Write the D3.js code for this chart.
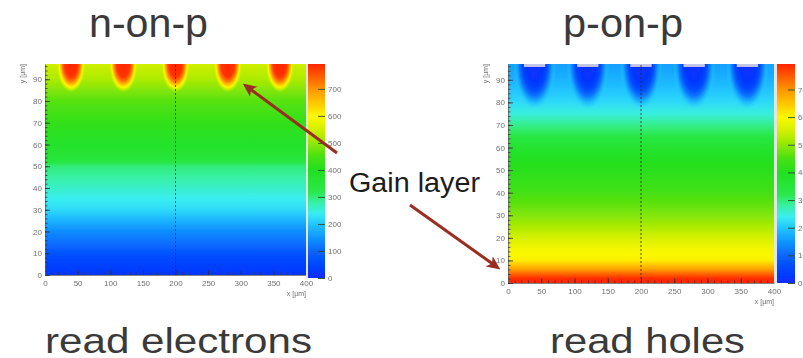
<!DOCTYPE html>
<html>
<head>
<meta charset="utf-8">
<script src="https://cdn.jsdelivr.net/npm/d3@7/dist/d3.min.js"></script>
<style>
  body { margin: 0; background: #fff; }
  svg { display: block; }
</style>
</head>
<body>
<svg id="chart" width="803" height="358"></svg>
<script>
// axis ticks
const xTicks = [0, 50, 100, 150, 200, 250, 300, 350, 400];
const yTicks = [0, 10, 20, 30, 40, 50, 60, 70, 80, 90];
const zTicks = [0, 100, 200, 300, 400, 500, 600, 700];
const xMax = 400, yMax = 97, zMax = 792;

// colour palette of the z axis (value -> colour)
const paletteVals = [0, 50, 100, 150, 200, 240, 280, 320, 400, 450, 500, 550, 600, 650, 700, 750, 792];
const paletteCols = ['#0a2cff', '#0046ff', '#0a66ff', '#1096ff', '#22c6ff', '#3aeef0', '#38f0a4', '#2ae84a',
  '#22e020', '#48e012', '#92e806', '#d2f000', '#fcf800', '#ffc400', '#ff9400', '#ff5800', '#ff2400'];

// strip positions (um)
const stripCenters = [40, 120, 200, 280, 360];

// n-on-p : field between strips vs depth y (um)
const nonpLevels = [0, 5, 10, 15, 20, 25, 30, 35, 40, 45, 50, 52, 55, 60, 70, 80, 85, 90, 95, 97];
const nonpBulk   = [20, 40, 70, 110, 140, 180, 220, 240, 260, 280, 300, 340, 360, 380, 420, 460, 490, 520, 540, 550];
// n-on-p : values going out from a strip (normalised radius)
const nonpBumpR     = [0, 0.45, 0.6, 0.72, 0.82, 0.92, 1];
const nonpBumpVals  = [792, 780, 730, 660, 600, 560, 540];
const nonpBumpAlpha = [1, 1, 1, 1, 1, 0.6, 0];
const nonpBumpSize  = [22, 13];   // half width, depth (um)

// p-on-p : field between strips vs depth y (um)
const ponpLevels = [0, 2, 4, 6, 8, 10, 12, 15, 20, 25, 30, 35, 40, 45, 50, 55, 60, 65, 70, 75, 80, 85, 90, 95, 97];
const ponpBulk   = [792, 785, 740, 690, 650, 610, 600, 590, 555, 520, 490, 465, 445, 425, 410, 400, 370, 330, 290, 250, 220, 200, 180, 165, 160];
const ponpBumpR     = [0, 0.4, 0.55, 0.7, 0.82, 0.92, 1];
const ponpBumpVals  = [10, 20, 50, 110, 160, 195, 215];
const ponpBumpAlpha = [1, 1, 1, 1, 0.8, 0.4, 0];
const ponpBumpSize  = [32, 20];

const color = d3.scaleLinear().domain(paletteVals).range(paletteCols).clamp(true);
const svg = d3.select('#chart');
const defs = svg.append('defs');
defs.append('filter').attr('id', 'soft').append('feGaussianBlur').attr('stdDeviation', 0.45);

// arrow head
defs.append('marker')
  .attr('id', 'head').attr('viewBox', '0 0 10 10')
  .attr('refX', 7).attr('refY', 5)
  .attr('markerWidth', 4.6).attr('markerHeight', 4.6)
  .attr('orient', 'auto')
  .append('path').attr('d', 'M0,0.5 L10,5 L0,9.5 L2.5,5 z').attr('fill', '#9b2d20');

const font = "'Liberation Sans', Arial, sans-serif";

function panel(id, box, levels, bulk, bumpR, bumpVals, bumpAlpha, bumpSize, electrodes) {
  const x = d3.scaleLinear().domain([0, xMax]).range([box.left, box.right]);
  const y = d3.scaleLinear().domain([0, yMax]).range([box.bottom, box.top]);
  const z = d3.scaleLinear().domain([0, zMax]).range([box.cbBottom, box.top]);
  const g = svg.append('g').attr('filter', 'url(#soft)');

  defs.append('clipPath').attr('id', id + 'clip')
    .append('rect')
    .attr('x', x(0)).attr('y', y(yMax))
    .attr('width', x(xMax) - x(0)).attr('height', y(0) - y(yMax));

  // field profile (between strips)
  const lg = defs.append('linearGradient').attr('id', id + 'bulk')
    .attr('gradientUnits', 'userSpaceOnUse')
    .attr('x1', 0).attr('x2', 0).attr('y1', y(0)).attr('y2', y(yMax));
  lg.selectAll('stop').data(levels).join('stop')
    .attr('offset', d => d / yMax)
    .attr('stop-color', (d, i) => color(bulk[i]));

  const plot = g.append('g').attr('clip-path', `url(#${id}clip)`);
  plot.append('rect')
    .attr('x', x(0)).attr('y', y(yMax))
    .attr('width', x(xMax) - x(0)).attr('height', y(0) - y(yMax))
    .attr('fill', `url(#${id}bulk)`);

  // field around each strip
  const rg = defs.append('radialGradient').attr('id', id + 'bump');
  rg.selectAll('stop').data(bumpR).join('stop')
    .attr('offset', d => d)
    .attr('stop-color', (d, i) => color(bumpVals[i]))
    .attr('stop-opacity', (d, i) => bumpAlpha[i]);

  plot.selectAll('ellipse').data(stripCenters).join('ellipse')
    .attr('cx', d => x(d))
    .attr('cy', y(yMax))
    .attr('rx', d => x(d + bumpSize[0]) - x(d))
    .attr('ry', y(yMax - bumpSize[1]) - y(yMax))
    .attr('fill', `url(#${id}bump)`);

  if (electrodes) {
    plot.selectAll('rect.strip').data(stripCenters).join('rect')
      .attr('class', 'strip')
      .attr('x', d => x(d - 16))
      .attr('y', y(yMax))
      .attr('width', d => x(d + 16) - x(d - 16))
      .attr('height', y(yMax - 1.3) - y(yMax))
      .attr('fill', '#c6c6e6');
  }

  // dashed line in the middle
  plot.append('line')
    .attr('x1', x(200)).attr('x2', x(200))
    .attr('y1', y(0)).attr('y2', y(yMax))
    .attr('stroke', '#2a2a2a').attr('stroke-width', 0.8)
    .attr('stroke-dasharray', '2,2');

  // axes
  const ax = g.append('g').attr('transform', `translate(0,${y(0)})`)
    .call(d3.axisBottom(x).tickValues(xTicks).tickSize(-5).tickSizeOuter(0).tickPadding(5));
  const axMinor = g.append('g').attr('transform', `translate(0,${y(0)})`)
    .call(d3.axisBottom(x).tickValues(d3.range(0, xMax + 1, 10)).tickSize(-2.5).tickFormat(''));
  const ay = g.append('g').attr('transform', `translate(${x(0)},0)`)
    .call(d3.axisLeft(y).tickValues(yTicks).tickSize(-5).tickSizeOuter(0).tickPadding(3));
  const ayMinor = g.append('g').attr('transform', `translate(${x(0)},0)`)
    .call(d3.axisLeft(y).tickValues(d3.range(0, yMax, 2)).tickSize(-2.5).tickFormat(''));
  axMinor.select('.domain').remove();
  ayMinor.select('.domain').remove();
  [ax, ay, axMinor, ayMinor].forEach(a => {
    a.attr('font-size', 8).attr('font-family', font);
    a.selectAll('line').attr('stroke', '#333').attr('stroke-width', 0.8);
    a.selectAll('text').attr('fill', '#707070');
  });
  ax.select('.domain').attr('stroke', '#666').attr('stroke-width', 0.8);
  ay.select('.domain').attr('stroke', '#666').attr('stroke-width', 0.8);

  g.append('text')
    .attr('x', x(xMax)).attr('y', y(0) + 21)
    .attr('text-anchor', 'end').attr('font-size', 7).attr('font-family', font)
    .attr('fill', '#707070').text('x [\u00b5m]');
  g.append('text')
    .attr('transform', `translate(${x(0) - 20},${y(yMax)}) rotate(-90)`)
    .attr('text-anchor', 'end').attr('font-size', 7).attr('font-family', font)
    .attr('fill', '#707070').text('y [\u00b5m]');

  // separator + colour bar
  g.append('rect')
    .attr('x', x(xMax)).attr('y', y(yMax))
    .attr('width', box.cbLeft - x(xMax)).attr('height', box.cbBottom - y(yMax))
    .attr('fill', '#e4e4e4');
  const cg = defs.append('linearGradient').attr('id', id + 'pal')
    .attr('gradientUnits', 'userSpaceOnUse')
    .attr('x1', 0).attr('x2', 0).attr('y1', z(0)).attr('y2', z(zMax));
  cg.selectAll('stop').data(paletteVals).join('stop')
    .attr('offset', d => d / zMax)
    .attr('stop-color', (d, i) => paletteCols[i]);
  g.append('rect')
    .attr('x', box.cbLeft).attr('y', z(zMax))
    .attr('width', box.cbRight - box.cbLeft).attr('height', z(0) - z(zMax))
    .attr('fill', `url(#${id}pal)`);
  const az = g.append('g').attr('transform', `translate(${box.cbRight},0)`)
    .call(d3.axisRight(z).tickValues(zTicks).tickSize(-7).tickSizeOuter(0).tickPadding(3));
  az.select('.domain').remove();
  az.attr('font-size', 8).attr('font-family', font);
  az.selectAll('line').attr('stroke', '#2a4a2a').attr('stroke-width', 0.9);
  az.selectAll('text').attr('fill', '#707070');
}

panel('nonp', { left: 45, right: 306, top: 64, bottom: 275, cbLeft: 308, cbRight: 325, cbBottom: 278 },
  nonpLevels, nonpBulk, nonpBumpR, nonpBumpVals, nonpBumpAlpha, nonpBumpSize, false);
panel('ponp', { left: 508, right: 774, top: 64, bottom: 283, cbLeft: 777, cbRight: 795, cbBottom: 283 },
  ponpLevels, ponpBulk, ponpBumpR, ponpBumpVals, ponpBumpAlpha, ponpBumpSize, true);

// titles and notes
const labels = [
  { t: 'n-on-p', x: 89, y: 37, size: 40, len: 119 },
  { t: 'p-on-p', x: 563, y: 37, size: 40, len: 120 },
  { t: 'read electrons', x: 45, y: 353, size: 35, len: 267 },
  { t: 'read holes', x: 550, y: 353, size: 35, len: 195 }
];
svg.selectAll('text.big').data(labels).join('text')
  .attr('class', 'big')
  .attr('x', d => d.x).attr('y', d => d.y)
  .attr('font-size', d => d.size).attr('font-family', font)
  .attr('fill', '#3a3a3a')
  .attr('textLength', d => d.len).attr('lengthAdjust', 'spacingAndGlyphs')
  .text(d => d.t);

svg.append('text')
  .attr('x', 349).attr('y', 192)
  .attr('font-size', 27).attr('font-family', font)
  .attr('fill', '#1c1c1c')
  .attr('textLength', 131).attr('lengthAdjust', 'spacingAndGlyphs')
  .text('Gain layer');

// arrows to the gain layers
const arrows = [[337, 153, 246, 86], [410, 205, 497, 267]];
svg.selectAll('line.arrow').data(arrows).join('line')
  .attr('class', 'arrow')
  .attr('x1', d => d[0]).attr('y1', d => d[1])
  .attr('x2', d => d[2]).attr('y2', d => d[3])
  .attr('stroke', '#9b2d20').attr('stroke-width', 3)
  .attr('marker-end', 'url(#head)');
</script>
</body>
</html>
